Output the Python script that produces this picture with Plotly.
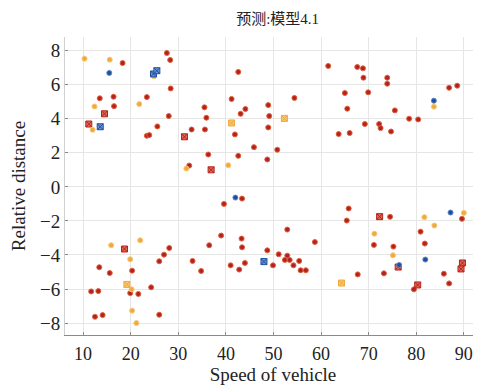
import plotly.graph_objects as go

# ---- data ----
red_x = [18.3, 27.6, 28.3, 28.4, 13.5, 16.4, 23.4, 16.5, 28.0, 25.6, 23.4, 23.9, 32.3,
         42.6, 61.5, 41.2, 54.4, 35.5, 48.9, 44.1, 43.1, 35.9, 49.1, 32.8, 35.6, 48.9, 41.9, 45.9, 50.8, 36.3, 42.6, 48.7,
         67.6, 68.8, 68.9, 73.9, 73.9, 86.9, 88.6, 65.0, 69.9, 65.5, 75.5, 78.5, 80.4, 69.2, 72.2, 72.5, 74.7, 63.7, 66.0,
         28.1, 27.0, 26.0, 13.4, 15.6, 20.3, 19.9, 21.6, 24.3, 11.7, 13.2, 12.5, 14.1, 26.0,
         43.4, 39.6, 39.0, 36.5, 43.3, 43.4, 52.9, 58.7, 48.7, 51.1, 52.9, 52.4, 53.4, 55.4, 54.2, 55.7, 56.8, 33.0, 34.8, 41.0, 42.8, 44.0, 49.9,
         65.8, 65.4, 74.5, 89.6, 80.9, 71.1, 75.2, 81.8, 67.7, 73.2, 85.8, 86.9, 79.5]
red_y = [7.27, 7.86, 7.45, 5.78, 5.2, 5.29, 5.27, 4.74, 4.16, 3.55, 3.0, 3.04, 1.25,
         6.75, 7.1, 5.16, 5.22, 4.67, 4.8, 4.57, 4.29, 4.06, 4.16, 3.37, 3.37, 3.49, 3.08, 2.33, 2.18, 1.9, 1.82, 1.61,
         7.04, 6.96, 6.41, 6.41, 6.06, 5.82, 5.94, 5.51, 5.55, 4.59, 4.49, 4.0, 3.96, 3.69, 3.69, 3.45, 3.25, 3.1, 3.16,
         -3.59, -3.98, -4.37, -4.72, -5.06, -4.92, -6.24, -6.29, -5.9, -6.14, -6.12, -7.63, -7.53, -7.51,
         -0.69, -1.0, -2.86, -3.43, -3.04, -3.55, -2.51, -3.24, -3.73, -3.96, -4.04, -4.29, -4.29, -4.35, -4.61, -4.9, -4.9, -4.35, -4.94, -4.61, -4.86, -4.47, -4.61,
         -1.27, -1.98, -1.76, -1.88, -2.63, -3.41, -3.51, -3.33, -5.14, -5.08, -5.1, -5.67, -6.02]

red_mark_x = [14.5, 11.2, 31.3, 36.9, 18.7, 72.3, 76.2, 89.7, 89.4, 80.3]
red_mark_y = [4.29, 3.69, 2.94, 1.0, -3.65, -1.75, -4.71, -4.47, -4.82, -5.76]

orange_x = [10.3, 15.6, 24.9, 12.4, 21.8, 12.0, 31.7, 40.5, 15.9, 22.0, 19.9, 20.2, 20.3, 21.2,
            81.7, 90.0, 83.8, 71.2, 75.1, 83.7]
orange_y = [7.53, 7.47, 6.49, 4.72, 4.86, 3.35, 1.08, 1.27, -3.43, -3.14, -4.25, -6.02, -7.27, -8.0,
            -1.78, -1.53, -2.27, -2.75, -4.02, 4.71]
orange_mark_x = [41.2, 52.3, 19.2, 64.3]
orange_mark_y = [3.75, 4.02, -5.73, -5.65]

blue_x = [15.5, 83.7, 42.0, 87.2, 81.9, 76.4]
blue_y = [6.69, 5.06, -0.63, -1.51, -4.27, -4.59]
blue_mark_x = [24.8, 25.5, 13.6, 48.0]
blue_mark_y = [6.63, 6.82, 3.53, -4.39]

x_ticks = [10, 20, 30, 40, 50, 60, 70, 80, 90]
y_ticks = [8, 6, 4, 2, 0, -2, -4, -6, -8]

RED = "#b3231c"
RED_EDGE = "#e2603c"
ORANGE = "#f0aa3a"
ORANGE_EDGE = "#f7c777"
BLUE = "#1d4f9e"
BLUE_EDGE = "#5f86c4"

fig = go.Figure()

def add(xs, ys, fill, edge, symbol, size):
    fig.add_trace(go.Scatter(
        x=xs, y=ys, mode="markers", showlegend=False, hoverinfo="skip",
        marker=dict(color=fill, symbol=symbol, size=size,
                    line=dict(color=edge, width=1))))

add(red_x, red_y, RED, RED_EDGE, "circle", 5)
add(red_mark_x, red_mark_y, "#e06a55", RED, "square-x", 6)
add(orange_x, orange_y, ORANGE, ORANGE_EDGE, "circle", 5)
add(orange_mark_x, orange_mark_y, "#f7c777", ORANGE, "square-x", 6)
add(blue_x, blue_y, BLUE, BLUE_EDGE, "circle", 5)
add(blue_mark_x, blue_mark_y, "#6c93cf", BLUE, "square-x", 6)

SERIF = "Liberation Serif"
TITLE_FONT = "Liberation Serif, Noto Sans CJK SC"

# the page body keeps its default 8px margin, so the figure is sized to fit inside it
fig.update_layout(
    width=473, height=384,
    margin=dict(l=57, r=0, t=29, b=57, autoexpand=False),
    paper_bgcolor="white", plot_bgcolor="white",
    font=dict(family=SERIF, size=15, color="#222222"),
    title=dict(text="预测:模型4.1", x=0.57, xanchor="center", y=0.985, yanchor="top",
               font=dict(family=TITLE_FONT, size=15, color="#222222")),
    xaxis=dict(
        range=[6.2, 93.6], tickvals=x_ticks, ticktext=[str(v) for v in x_ticks],
        showgrid=True, gridcolor="#e6e6e6", gridwidth=1,
        showline=True, linecolor="#8a8a8a", linewidth=1,
        ticks="inside", ticklen=3, tickcolor="#8a8a8a",
        zeroline=False, automargin=False,
        title=dict(text="Speed of vehicle", standoff=5, font=dict(family=SERIF, size=19)),
        tickfont=dict(family=SERIF, size=18),
        ticklabelstandoff=2,
    ),
    yaxis=dict(
        range=[-8.7, 8.8], tickvals=y_ticks, ticktext=[("\u2212" + str(-v)) if v < 0 else str(v) for v in y_ticks],
        showgrid=True, gridcolor="#e6e6e6", gridwidth=1,
        showline=True, linecolor="#d0d0d0", linewidth=1,
        ticks="inside", ticklen=3, tickcolor="#8a8a8a",
        zeroline=False, automargin=False,
        title=dict(text="Relative distance", standoff=10, font=dict(family=SERIF, size=19)),
        tickfont=dict(family=SERIF, size=19),
    ),
)

fig.write_html("out.html")
